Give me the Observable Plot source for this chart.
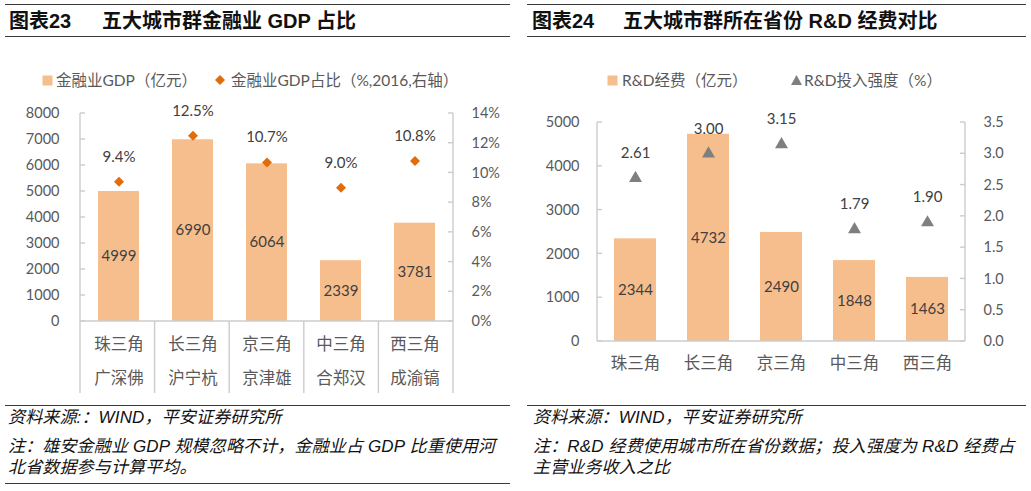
<!DOCTYPE html>
<html><head><meta charset="utf-8">
<script src="https://cdn.jsdelivr.net/npm/d3@7"></script>
<script src="https://cdn.jsdelivr.net/npm/@observablehq/plot@0.6"></script>
<style>
body{margin:0;background:#fff;width:1031px;height:491px;position:relative;overflow:hidden;font-family:"Liberation Sans","Noto Sans CJK SC",sans-serif;}
.hr{position:absolute;height:0;border-top:1.6px solid #3a3a3a;}
.title{position:absolute;font-weight:bold;font-size:20px;line-height:20px;color:#111;white-space:pre;font-family:"Liberation Sans","Noto Sans CJK SC",sans-serif;}
.lg{position:absolute;font-family:Lato,"Noto Sans CJK SC",sans-serif;font-size:15.5px;color:#595959;white-space:pre;line-height:20px;}
.mk{position:absolute;}
.note{position:absolute;font-style:italic;font-size:17px;line-height:20px;color:#111;white-space:pre;letter-spacing:0.15px;}
.chart{position:absolute;}
</style></head><body>
<div class="hr" style="left:5px;width:505px;top:4px"></div>
<div class="hr" style="left:5px;width:505px;top:36px"></div>
<div class="title" style="left:9px;top:11px">图表23</div>
<div class="title" style="left:102px;top:11px">五大城市群金融业 GDP 占比</div>

<div class="hr" style="left:527px;width:499px;top:4px"></div>
<div class="hr" style="left:527px;width:499px;top:36px"></div>
<div class="title" style="left:532px;top:11px">图表24</div>
<div class="title" style="left:623px;top:11px">五大城市群所在省份 R&amp;D 经费对比</div>

<svg class="mk" style="left:42px;top:75px" width="11" height="11"><rect x="0.5" y="0.5" width="10" height="10" fill="#F7BE8D"/></svg>
<div class="lg" style="left:56px;top:70px">金融业GDP（亿元）</div>
<svg class="mk" style="left:214px;top:74px" width="12" height="12"><path d="M6 1L11 6L6 11L1 6Z" fill="#E36C0A"/></svg>
<div class="lg" style="left:231px;top:70px">金融业GDP占比（%,2016,右轴）</div>

<svg class="mk" style="left:607px;top:75px" width="11" height="11"><rect x="0.5" y="0.5" width="10" height="10" fill="#F7BE8D"/></svg>
<div class="lg" style="left:622px;top:70px">R&amp;D经费（亿元）</div>
<svg class="mk" style="left:790px;top:74px" width="13" height="12"><path d="M6.5 1L12 11L1 11Z" fill="#7F7F7F"/></svg>
<div class="lg" style="left:804px;top:70px">R&amp;D投入强度（%）</div>

<div id="c1" class="chart" style="left:0px;top:95px"></div>
<div id="c2" class="chart" style="left:520px;top:95px"></div>

<div class="hr" style="left:5px;width:505px;top:405px"></div>
<div class="note" style="left:8px;top:408px">资料来源:：WIND，平安证券研究所</div>
<div class="note" style="left:8px;top:437px">注：雄安金融业 GDP 规模忽略不计，金融业占 GDP 比重使用河</div>
<div class="note" style="left:8px;top:458px">北省数据参与计算平均。</div>
<div class="hr" style="left:5px;width:505px;top:483px"></div>

<div class="hr" style="left:527px;width:499px;top:405px"></div>
<div class="note" style="left:533px;top:408px">资料来源：WIND，平安证券研究所</div>
<div class="note" style="left:533px;top:437px">注：R&amp;D 经费使用城市所在省份数据；投入强度为 R&amp;D 经费占</div>
<div class="note" style="left:533px;top:458px">主营业务收入之比</div>

<script>
// ---- data ----
const categories = ["珠三角","长三角","京三角","中三角","西三角"];
const cities = ["广深佛","沪宁杭","京津雄","合郑汉","成渝镐"];
const financeGDP = [4999, 6990, 6064, 2339, 3781];
const financeShare = [9.4, 12.5, 10.7, 9.0, 10.8];
const gdpTicks = [0,1000,2000,3000,4000,5000,6000,7000,8000];
const shareTicks = [0,2,4,6,8,10,12,14];

const rdSpend = [2344, 4732, 2490, 1848, 1463];
const rdIntensity = [2.61, 3.00, 3.15, 1.79, 1.90];
const rdTicks = [0,1000,2000,3000,4000,5000];
const intensityTicks = [0,0.5,1.0,1.5,2.0,2.5,3.0,3.5];

const FONT = "Lato, 'Noto Sans CJK SC', sans-serif";
const BAR = "#F7BE8D";
const AXIS = "#CCCCCC";

function frameMark({leftTicks, rightTicks, k, sep}) {
  return (index, scales, values, dims) => {
    const y = scales.y;
    const x0 = dims.marginLeft, x1 = dims.width - dims.marginRight;
    const yTop = dims.marginTop, yBase = dims.height - dims.marginBottom;
    const bottom = yBase + (sep || 0);
    const g = d3.create("svg:g").attr("stroke", AXIS).attr("stroke-width", 1.4).attr("fill", "none");
    const line = (a, b, c, d) => g.append("line").attr("x1", a).attr("y1", b).attr("x2", c).attr("y2", d);
    line(x0, yTop, x0, bottom);
    line(x1, yTop, x1, bottom);
    line(x0, yBase, x1, yBase);
    leftTicks.forEach(v => line(x0, y(v), x0 + 5, y(v)));
    rightTicks.forEach(v => line(x1 - 5, y(v * k), x1, y(v * k)));
    if (sep) {
      const n = categories.length, step = (x1 - x0) / n;
      for (let i = 1; i < n; i++) line(x0 + i * step, yBase, x0 + i * step, bottom);
    }
    return g.node();
  };
}

// ---- chart 1 ----
const rows1 = categories.map((c, i) => ({cat: c, gdp: financeGDP[i], share: financeShare[i]}));
const k1 = 8000 / 14;
const p1 = Plot.plot({
  width: 515, height: 300,
  marginTop: 18, marginBottom: 74, marginLeft: 80, marginRight: 62,
  style: {fontFamily: FONT, background: "transparent", color: "#595959", overflow: "visible"},
  x: {domain: categories, paddingInner: 0.44, paddingOuter: 0.22, axis: null},
  y: {domain: [0, 8000], axis: null, label: null},
  marks: [
    Plot.barY(rows1, {x: "cat", y: "gdp", fill: BAR}),
    frameMark({leftTicks: gdpTicks, rightTicks: shareTicks, k: k1, sep: 72}),
    Plot.text(rows1, {x: "cat", y: d => d.gdp / 2, text: d => String(d.gdp), fill: "#404040", fontSize: 15}),
    Plot.dot(rows1, {x: "cat", y: d => d.share * k1, symbol: "diamond2", r: 4.5, fill: "#E36C0A"}),
    Plot.text(rows1, {x: "cat", y: d => d.share * k1, dy: -25, text: d => d.share.toFixed(1) + "%", fill: "#404040", fontSize: 15}),
    Plot.axisY(gdpTicks, {anchor: "left", tickSize: 0, tickPadding: 21, fontSize: 14.5, label: null,
      tickFormat: d => String(d)}),
    Plot.axisY(shareTicks.map(v => v * k1), {anchor: "right", tickSize: 0, tickPadding: 18, fontSize: 14.5, label: null,
      tickFormat: d => Math.round(d / k1) + "%"}),
    Plot.axisX({tickSize: 0, tickPadding: 17, fontSize: 16.5, label: null}),
    Plot.axisX({tickSize: 0, tickPadding: 51, fontSize: 16.5, label: null,
      tickFormat: d => cities[categories.indexOf(d)]})
  ]
});
document.getElementById("c1").append(p1);

// ---- chart 2 ----
const rows2 = categories.map((c, i) => ({cat: c, rd: rdSpend[i], inten: rdIntensity[i]}));
const k2 = 5000 / 3.5;
const p2 = Plot.plot({
  width: 511, height: 300,
  marginTop: 27, marginBottom: 54, marginLeft: 77, marginRight: 66,
  style: {fontFamily: FONT, background: "transparent", color: "#595959", overflow: "visible"},
  x: {domain: categories, paddingInner: 0.43, paddingOuter: 0.215, axis: null},
  y: {domain: [0, 5000], axis: null, label: null},
  marks: [
    Plot.barY(rows2, {x: "cat", y: "rd", fill: BAR}),
    frameMark({leftTicks: rdTicks, rightTicks: intensityTicks, k: k2, sep: 0}),
    Plot.text(rows2, {x: "cat", y: d => d.rd / 2, text: d => String(d.rd), fill: "#404040", fontSize: 15}),
    Plot.dot(rows2, {x: "cat", y: d => d.inten * k2, symbol: "triangle", r: 4.8, fill: "#7F7F7F"}),
    Plot.text(rows2, {x: "cat", y: d => d.inten * k2, dy: -25, text: d => d.inten.toFixed(2), fill: "#404040", fontSize: 15}),
    Plot.axisY(rdTicks, {anchor: "left", tickSize: 0, tickPadding: 18, fontSize: 14.5, label: null,
      tickFormat: d => String(d)}),
    Plot.axisY(intensityTicks.map(v => v * k2), {anchor: "right", tickSize: 0, tickPadding: 18, fontSize: 14.5, label: null,
      tickFormat: d => (d / k2).toFixed(1)}),
    Plot.axisX({tickSize: 0, tickPadding: 16, fontSize: 16.5, label: null})
  ]
});
document.getElementById("c2").append(p2);
</script>
</body></html>
